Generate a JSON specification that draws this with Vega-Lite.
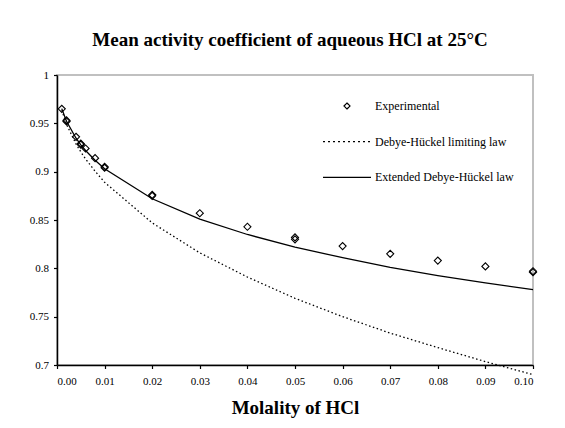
{
  "$schema": "https://vega.github.io/schema/vega-lite/v6.json",
  "width": 476,
  "height": 290,
  "autosize": "none",
  "padding": {"left": 57, "top": 75, "right": 32, "bottom": 63},
  "background": "white",
  "title": {
    "text": "Mean activity coefficient of aqueous HCl at 25°C",
    "font": "Liberation Serif",
    "fontSize": 19,
    "fontWeight": "bold",
    "color": "black",
    "anchor": "middle",
    "baseline": "alphabetic",
    "offset": 4,
    "dx": -5
  },
  "config": {
    "font": "Liberation Serif",
    "view": {"stroke": "#c0c0c0", "strokeWidth": 2},
    "axis": {
      "domainColor": "black",
      "domainWidth": 1.5,
      "tickColor": "black",
      "tickWidth": 1.2,
      "tickSize": 3.5,
      "grid": false,
      "labelFont": "Liberation Serif",
      "labelFontSize": 11,
      "labelColor": "black"
    }
  },
  "data": {
    "values": [
      {"m": 0.001, "g": 0.965, "s": "Experimental"},
      {"m": 0.002, "g": 0.952, "s": "Experimental"},
      {"m": 0.002, "g": 0.953, "s": "Experimental"},
      {"m": 0.004, "g": 0.936, "s": "Experimental"},
      {"m": 0.005, "g": 0.929, "s": "Experimental"},
      {"m": 0.005, "g": 0.928, "s": "Experimental"},
      {"m": 0.006, "g": 0.924, "s": "Experimental"},
      {"m": 0.008, "g": 0.914, "s": "Experimental"},
      {"m": 0.01, "g": 0.905, "s": "Experimental"},
      {"m": 0.01, "g": 0.904, "s": "Experimental"},
      {"m": 0.02, "g": 0.876, "s": "Experimental"},
      {"m": 0.02, "g": 0.875, "s": "Experimental"},
      {"m": 0.03, "g": 0.857, "s": "Experimental"},
      {"m": 0.04, "g": 0.843, "s": "Experimental"},
      {"m": 0.05, "g": 0.83, "s": "Experimental"},
      {"m": 0.05, "g": 0.832, "s": "Experimental"},
      {"m": 0.06, "g": 0.823, "s": "Experimental"},
      {"m": 0.07, "g": 0.815, "s": "Experimental"},
      {"m": 0.08, "g": 0.808, "s": "Experimental"},
      {"m": 0.09, "g": 0.802, "s": "Experimental"},
      {"m": 0.1, "g": 0.796, "s": "Experimental"},
      {"m": 0.1, "g": 0.797, "s": "Experimental"},
      {"m": 0.001, "g": 0.9636, "s": "Debye-Hückel limiting law"},
      {"m": 0.002, "g": 0.9489, "s": "Debye-Hückel limiting law"},
      {"m": 0.004, "g": 0.9286, "s": "Debye-Hückel limiting law"},
      {"m": 0.005, "g": 0.9205, "s": "Debye-Hückel limiting law"},
      {"m": 0.006, "g": 0.9132, "s": "Debye-Hückel limiting law"},
      {"m": 0.008, "g": 0.9005, "s": "Debye-Hückel limiting law"},
      {"m": 0.01, "g": 0.889, "s": "Debye-Hückel limiting law"},
      {"m": 0.02, "g": 0.847, "s": "Debye-Hückel limiting law"},
      {"m": 0.03, "g": 0.816, "s": "Debye-Hückel limiting law"},
      {"m": 0.04, "g": 0.791, "s": "Debye-Hückel limiting law"},
      {"m": 0.05, "g": 0.769, "s": "Debye-Hückel limiting law"},
      {"m": 0.06, "g": 0.75, "s": "Debye-Hückel limiting law"},
      {"m": 0.07, "g": 0.733, "s": "Debye-Hückel limiting law"},
      {"m": 0.08, "g": 0.718, "s": "Debye-Hückel limiting law"},
      {"m": 0.09, "g": 0.7035, "s": "Debye-Hückel limiting law"},
      {"m": 0.1, "g": 0.69, "s": "Debye-Hückel limiting law"},
      {"m": 0.001, "g": 0.9652, "s": "Extended Debye-Hückel law"},
      {"m": 0.002, "g": 0.9521, "s": "Extended Debye-Hückel law"},
      {"m": 0.004, "g": 0.9346, "s": "Extended Debye-Hückel law"},
      {"m": 0.005, "g": 0.9278, "s": "Extended Debye-Hückel law"},
      {"m": 0.006, "g": 0.9219, "s": "Extended Debye-Hückel law"},
      {"m": 0.008, "g": 0.9118, "s": "Extended Debye-Hückel law"},
      {"m": 0.01, "g": 0.903, "s": "Extended Debye-Hückel law"},
      {"m": 0.02, "g": 0.872, "s": "Extended Debye-Hückel law"},
      {"m": 0.03, "g": 0.851, "s": "Extended Debye-Hückel law"},
      {"m": 0.04, "g": 0.835, "s": "Extended Debye-Hückel law"},
      {"m": 0.05, "g": 0.822, "s": "Extended Debye-Hückel law"},
      {"m": 0.06, "g": 0.811, "s": "Extended Debye-Hückel law"},
      {"m": 0.07, "g": 0.801, "s": "Extended Debye-Hückel law"},
      {"m": 0.08, "g": 0.7925, "s": "Extended Debye-Hückel law"},
      {"m": 0.09, "g": 0.785, "s": "Extended Debye-Hückel law"},
      {"m": 0.1, "g": 0.778, "s": "Extended Debye-Hückel law"}
    ]
  },
  "encoding": {
    "x": {
      "field": "m",
      "type": "quantitative",
      "scale": {"domain": [0, 0.1], "nice": false, "zero": false},
      "axis": {
        "values": [0, 0.01, 0.02, 0.03, 0.04, 0.05, 0.06, 0.07, 0.08, 0.09, 0.1],
        "format": ".2f",
        "labelPadding": 7,
        "title": "Molality of HCl",
        "titleFont": "Liberation Serif",
        "titleFontSize": 19,
        "titleFontWeight": "bold",
        "titleColor": "black",
        "titlePadding": 12,
        "encode": {
          "ticks": {"update": {"y": {"value": -3.5}, "y2": {"value": 3.5}}}
        }
      }
    },
    "y": {
      "field": "g",
      "type": "quantitative",
      "scale": {"domain": [0.7, 1], "nice": false, "zero": false},
      "axis": {
        "values": [0.7, 0.75, 0.8, 0.85, 0.9, 0.95, 1],
        "format": "~g",
        "labelPadding": 5,
        "title": null,
        "encode": {
          "ticks": {"update": {"x": {"value": 4}, "x2": {"value": -3.5}}}
        }
      }
    },
    "color": {
      "field": "s",
      "type": "nominal",
      "scale": {
        "domain": ["Experimental", "Debye-Hückel limiting law", "Extended Debye-Hückel law"],
        "range": ["black", "black", "black"]
      },
      "legend": {
        "orient": "none",
        "legendX": 265,
        "legendY": 21,
        "padding": 0,
        "title": null,
        "clipHeight": 20,
        "symbolType": "stroke",
        "symbolSize": 2304,
        "symbolStrokeWidth": 1.2,
        "symbolStrokeColor": "black",
        "symbolFillColor": "white",
        "labelFont": "Liberation Serif",
        "labelFontSize": 12,
        "labelColor": "black",
        "labelOffset": 3,
        "rowPadding": 15.7,
        "encode": {
          "symbols": {
            "update": {
              "shape": {"signal": "datum.value === 'Experimental' ? 'diamond' : 'stroke'"},
              "size": {"signal": "datum.value === 'Experimental' ? 36 : 2304"},
              "strokeDash": {"signal": "datum.value === 'Debye-Hückel limiting law' ? [2, 3] : [1, 0]"}
            }
          }
        }
      }
    }
  },
  "layer": [
    {
      "transform": [{"filter": "datum.s === 'Debye-Hückel limiting law'"}],
      "mark": {"type": "line", "strokeWidth": 1.3, "strokeDash": [1.5, 2.5]}
    },
    {
      "transform": [{"filter": "datum.s === 'Extended Debye-Hückel law'"}],
      "mark": {"type": "line", "strokeWidth": 1.3}
    },
    {
      "transform": [{"filter": "datum.s === 'Experimental'"}],
      "mark": {"type": "point", "shape": "diamond", "filled": false, "size": 50, "strokeWidth": 1.1, "opacity": 1}
    }
  ]
}
